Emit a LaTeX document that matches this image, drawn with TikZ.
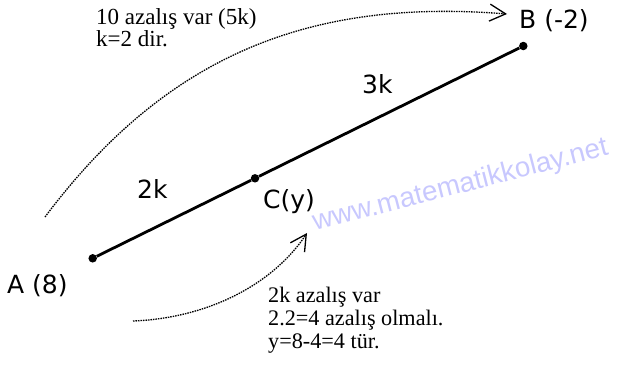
\documentclass[tikz,border=0pt]{standalone}
\usepackage{fontspec}
\setmainfont{Liberation Serif}
\newfontfamily\labelfont{DejaVu Sans}
\newfontfamily\markfont{Liberation Sans}
\usetikzlibrary{arrows.meta}
\definecolor{markblue}{RGB}{200,200,254}

\begin{document}
\begin{tikzpicture}[
      x=1pt, y=-1pt, line join=round,
      >={Straight Barb[length=16pt,width=17pt]},
      dot/.style={circle, fill=black, inner sep=0pt, minimum size=8.5pt},
      segment/.style={line width=2.8pt},
      hint/.style={line width=1.3pt, dash pattern=on 1.5pt off 1pt},
      pointlabel/.style={anchor=base west, inner sep=0pt,
        font=\labelfont\fontsize{25}{30}\selectfont},
      note/.style={anchor=base west, inner sep=0pt, align=left}
    ]

    % ------------------ Canvas ------------------
    \useasboundingbox (0,0) rectangle (617,373);

    % ------------------ Watermark ------------------
    \node[anchor=base west, inner sep=0pt, rotate=14.5, text=markblue,
      font=\markfont\fontsize{27.8}{30}\selectfont]
      (mark) at (315,231) {www.matematikkolay.net};

    % ------------------ Points on the line ------------------
    \node[dot] (A) at (92.7,258.3) {};
    \node[dot] (C) at (255,178.3) {};
    \node[dot] (B) at (523.3,46) {};

    \draw[segment] (A) -- (C) -- (B);

    % ------------------ Point labels ------------------
    \node[pointlabel] (labA) at (7,293) {A (8)};
    \node[pointlabel] (labB) at (519,28.5) {B (-2)};
    \node[pointlabel] (labC) at (263,208) {C(y)};
    \node[pointlabel] (lenAC) at (137,198.5) {2k};
    \node[pointlabel] (lenCB) at (362,93) {3k};

    % ------------------ Dotted arrows ------------------
    \coordinate (topstart) at (45,217);
    \coordinate (topend) at (507,14);
    \draw[hint, ->] (topstart) .. controls (165,57) and (307,-2) .. (topend);

    \coordinate (lowstart) at (133,321);
    \coordinate (lowend) at (307,233);
    \draw[hint, ->] (lowstart) .. controls (210,318) and (274,283) .. (lowend);

    % ------------------ Notes ------------------
    % (base of a multi-line node is its last line)
    \node[note, font=\fontsize{23}{20.5}\selectfont] (toptext) at (96,46.7)
      {10 azalış var (5k)\\k=2 dir.};
    \node[note, font=\fontsize{22.2}{23}\selectfont] (lowtext) at (268,348)
      {2k azalış var\\2.2=4 azalış olmalı.\\y=8-4=4 tür.};

  \end{tikzpicture}
\end{document}
